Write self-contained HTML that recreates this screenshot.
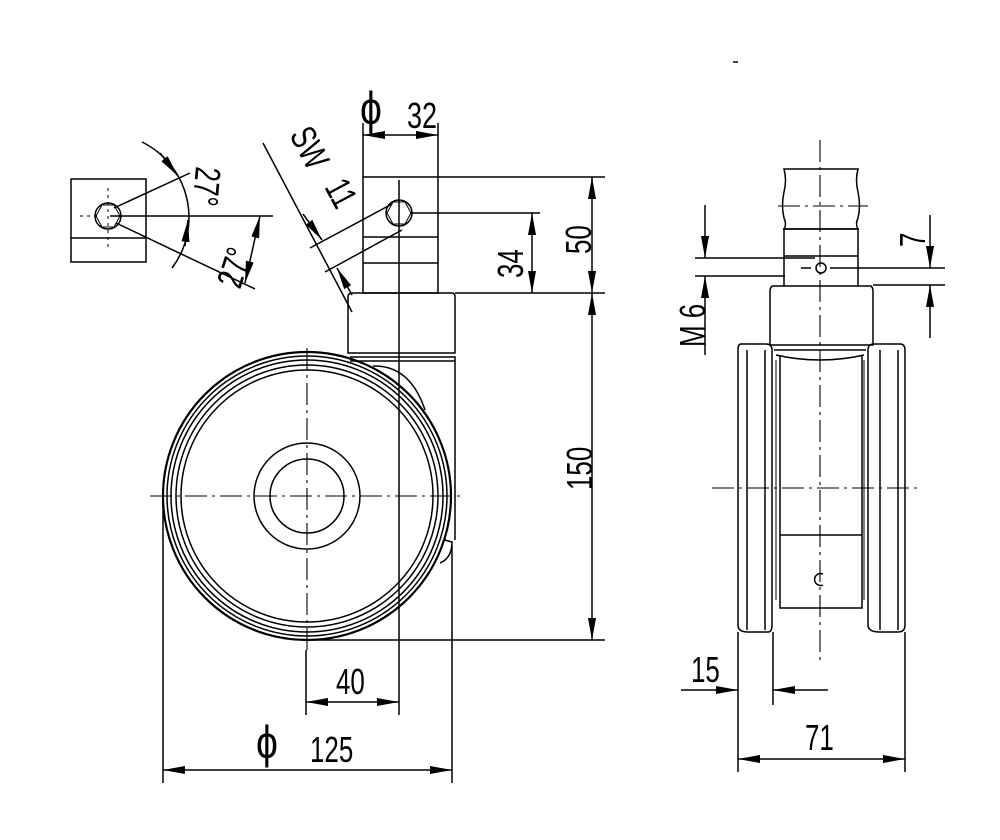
<!DOCTYPE html>
<html><head><meta charset="utf-8"><style>
html,body{margin:0;padding:0;background:#fff}
svg{display:block}
text{font-family:"Liberation Sans",sans-serif;fill:#000}
</style></head><body>
<svg width="1000" height="840" viewBox="0 0 1000 840" xmlns="http://www.w3.org/2000/svg">
<defs>
<marker id="a" viewBox="0 0 22 8" refX="22" refY="4" markerWidth="22" markerHeight="8" markerUnits="userSpaceOnUse" orient="auto-start-reverse"><path d="M0,0L22,4L0,8z" fill="#000"/></marker>
</defs>
<g fill="none" stroke="#000" stroke-width="1.5">
<circle cx="307" cy="496" r="144" stroke-width="2.2"/>
<circle cx="307" cy="496" r="140"/>
<circle cx="307" cy="496" r="136"/>
<circle cx="307" cy="496" r="131"/>
<circle cx="307" cy="496" r="126"/>
<circle cx="307" cy="496" r="53"/>
<circle cx="307" cy="496" r="37"/>
<path d="M373,366 Q410,365 425,410"/>
<path d="M445,540 L452,542 Q452,558 440,563"/>
<path d="M150,496H460M307,348V655" stroke-width="1.1" stroke-dasharray="22,5,3,5"/>
<rect x="363" y="177" width="75" height="116"/>
<path d="M363,237H438M363,263H438"/>
<circle cx="399" cy="213" r="13"/>
<path d="M393,202h12l6,11l-6,11h-12l-6,-11z" stroke-width="1"/>
<path d="M352,293H452Q455,293 455,297V353H348V297Q348,293 352,293Z"/>
<path d="M350,357H455V361H350"/>
<path d="M455,361V540"/>
<path d="M399,180V715"/>
<path d="M438,177H605M410,213H540M455,293H605M305,640H605"/>
<path d="M592,177V293" marker-start="url(#a)" marker-end="url(#a)"/>
<path d="M532,213V293" marker-start="url(#a)" marker-end="url(#a)"/>
<path d="M592,293V640" marker-start="url(#a)" marker-end="url(#a)"/>
<path d="M363,123V177M438,123V177"/>
<path d="M363,135H438" marker-start="url(#a)" marker-end="url(#a)"/>
<path d="M306,650V715"/>
<path d="M306,702H399" marker-start="url(#a)" marker-end="url(#a)"/>
<path d="M163,496V783M452,545V783"/>
<path d="M163,770H452" marker-start="url(#a)" marker-end="url(#a)"/>
<path d="M263,143L352,312"/>
<path d="M310,248L392,204M325,272L402,230"/>
<path d="M303,214L322,240" marker-end="url(#a)"/>
<path d="M352,295L337,268" marker-end="url(#a)"/>
<rect x="71" y="179" width="75" height="83"/>
<path d="M71,238H146"/>
<circle cx="108" cy="216" r="13"/>
<path d="M102,205h12l6,11l-6,11h-12l-6,-11z" stroke-width="1"/>
<path d="M108,188V248M80,216H100" stroke-width="1" stroke-dasharray="3,4"/>
<path d="M110,216H273M114,208L190,173M116,223L255,289"/>
<path d="M142,142A84,84 0 0 1 172,268"/>
<path d="M160,153L178,176" marker-end="url(#a)"/>
<path d="M185,246L188,220" marker-end="url(#a)"/>
<path d="M260,216L245,283" marker-start="url(#a)" marker-end="url(#a)"/>
<path d="M820,140V660" stroke-width="1.1" stroke-dasharray="22,5,3,5"/>
<path d="M712,488H922M778,206H868" stroke-width="1.1" stroke-dasharray="22,5,3,5"/>
<path d="M784,169H858Q855,180 858,192Q861,206 858,218Q855,224 858,229H784Q787,224 784,218Q781,206 784,192Q787,180 784,169Z"/>
<path d="M784,229H858M784,228V286M858,228V286M784,256H858"/>
<circle cx="821" cy="268" r="5"/>
<path d="M801,268h10"/>
<path d="M773,286H870Q873,286 873,292V345H770V292Q770,286 773,286Z"/>
<path d="M741,344Q738,344 738,350V625Q738,632 748,632H768Q772,632 772,625V350Q772,344 766,344Z"/>
<path d="M747,350V630M765,350V630"/>
<path d="M874,344Q868,344 868,350V625Q868,632 880,632H898Q905,632 905,625V350Q905,344 900,344Z"/>
<path d="M880,350V630M898,350V630"/>
<path d="M774,350H866M776,355Q820,365 864,355M780,355V608H862V355M780,535H862"/>
<path d="M776,360V600M864,360V600" stroke-width="1"/>
<path d="M823,574A6,6 0 1 0 823,585"/>
<path d="M830,268H945M873,285H945M695,258H815M695,276H785"/>
<path d="M930,215V268" marker-end="url(#a)"/>
<path d="M930,338V285" marker-end="url(#a)"/>
<path d="M705,205V258" marker-end="url(#a)"/>
<path d="M705,355V276" marker-end="url(#a)"/>
<path d="M738,632V772M905,632V772M773,632V705"/>
<path d="M681,690H738" marker-end="url(#a)"/>
<path d="M828,690H773" marker-end="url(#a)"/>
<path d="M738,759H905" marker-start="url(#a)" marker-end="url(#a)"/>
<path d="M733,62h5"/>
</g>
<g font-size="36">
<text font-size="46" transform="translate(360,124) scale(0.85,1)">ϕ</text>
<text transform="translate(407,128) scale(0.75,1)">32</text>
<text transform="translate(591,254) rotate(-90) scale(0.72,1)">50</text>
<text transform="translate(523,278) rotate(-90) scale(0.72,1)">34</text>
<text transform="translate(592,490) rotate(-90) scale(0.72,1)">150</text>
<text transform="translate(336,694) scale(0.72,1)">40</text>
<text font-size="46" transform="translate(256,758) scale(0.85,1)">ϕ</text>
<text transform="translate(310,762) scale(0.72,1)">125</text>
<text transform="translate(289,135) rotate(62) scale(0.72,1)">SW</text>
<text transform="translate(324,187) rotate(62) scale(0.72,1)">11</text>
<text transform="translate(196,166) rotate(95) scale(0.72,1)">27°</text>
<text transform="translate(240,290) rotate(-72) scale(0.72,1)">27°</text>
<text transform="translate(925,247) rotate(-90) scale(0.72,1)">7</text>
<text transform="translate(705,347) rotate(-90) scale(0.72,1)">M 6</text>
<text transform="translate(691,682) scale(0.72,1)">15</text>
<text transform="translate(805,750) scale(0.72,1)">71</text>
</g>
</svg>
</body></html>
